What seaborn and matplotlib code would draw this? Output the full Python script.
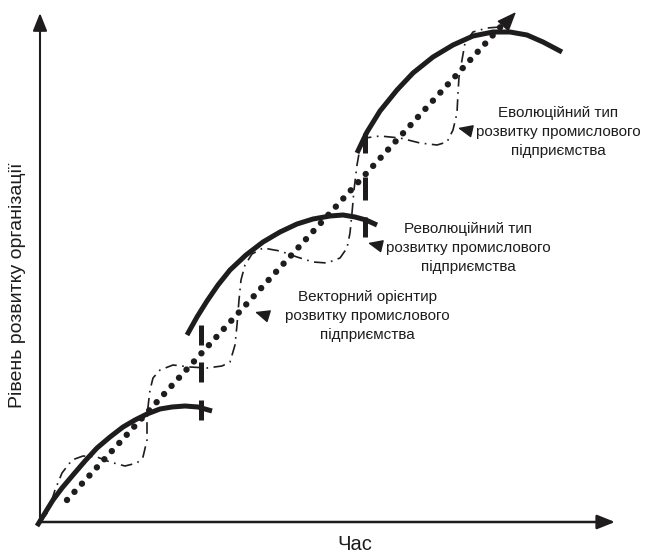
import numpy as np
import pandas as pd
import matplotlib.pyplot as plt
import seaborn as sns

# values; origin is where the two axes meet
# three "revolutionary" arcs (thick solid)
arc1_t = [-3, 5, 13, 22, 33, 45, 57, 70, 83, 95, 107, 120, 132, 145, 158, 172]
arc1_l = [-4, 9, 22, 34, 47, 61, 74, 85, 95, 102, 108, 113, 115, 116, 115, 111]
arc2_t = [147, 157, 167, 178, 190, 206, 223, 240, 257, 273, 290, 303, 315, 326, 337]
arc2_l = [187, 205, 221, 237, 252, 267, 280, 290, 298, 303, 306, 307, 305, 302, 297]
arc3_t = [317, 327, 340, 357, 373, 393, 413, 433, 453, 470, 487, 503, 522]
arc3_l = [369, 390, 411, 432, 449, 465, 477, 486, 490, 490, 487, 480, 470]

# vector (dotted straight line)
vec_t = [27, 465]
vec_l = [22, 500]

# evolutionary wave (dash-dot)
evo_t = [0, 8, 15, 22, 32, 43, 57, 70, 85, 97, 103, 107, 107, 108, 110, 113, 120,
         133, 150, 167, 182, 190, 195, 197, 199, 201, 205, 212, 223, 240, 257, 273,
         287, 300, 307, 310, 312, 314, 317, 320, 325, 340, 360, 380, 397, 407, 413,
         417, 418, 419, 422, 425, 433, 447, 460, 468]
evo_l = [0, 10, 32, 49, 62, 66, 65, 60, 56, 59, 65, 82, 99, 115, 132, 144, 152,
         157, 155, 154, 156, 160, 177, 197, 222, 242, 257, 268, 274, 271, 265, 260,
         259, 264, 274, 289, 309, 332, 357, 374, 384, 386, 384, 379, 377, 380, 392,
         409, 429, 445, 462, 479, 490, 494, 495, 500]

# thick dashed separators between the stages
sep_t = [161, 161, 161, 325, 325, 325]
sep_lo = [102, 140, 177, 285, 322, 369]
sep_hi = [122, 160, 197, 305, 345, 389]

labels = ["Еволюційний тип\nрозвитку промислового\nпідприємства",
          "Революційний тип\nрозвитку промислового\nпідприємства",
          "Векторний орієнтир\nрозвитку промислового\nпідприємства"]
label_t = [518, 428, 327]
label_l = [390, 274, 206]
tip_t = [418, 328, 215]
tip_l = [394, 279, 210]
tail_t = [431, 341, 228]
tail_l = [391, 276, 206]

ink = "#1e1c1d"

sns.set_theme(style="white")
plt.rcParams['font.family'] = ['Liberation Sans', 'DejaVu Sans']

fig = plt.figure(figsize=(6.45, 5.56), dpi=100)
ax = fig.add_axes([0, 0, 1, 1])
ax.set_xlim(-40, 605)
ax.set_ylim(-34, 522)
ax.set_axis_off()

# axes with arrow heads
ax.annotate("", xy=(0, 509), xytext=(0, 0),
            arrowprops=dict(arrowstyle="-|>,head_length=0.9,head_width=0.36",
                            lw=1.5, color=ink, shrinkA=0, shrinkB=0))
ax.annotate("", xy=(575, 0), xytext=(0, 0),
            arrowprops=dict(arrowstyle="-|>,head_length=0.9,head_width=0.36",
                            lw=1.8, color=ink, shrinkA=0, shrinkB=0))

# dotted vector
sns.lineplot(x=vec_t, y=vec_l, ax=ax, color=ink, lw=4.6, sort=False, estimator=None)
ln = ax.lines[-1]
ln.set_linestyle((0, (0.01, 1.72)))
ln.set_dash_capstyle("round")

# dash-dot evolutionary wave
evo = pd.DataFrame({"t": evo_t, "l": evo_l})
sns.lineplot(data=evo, x="t", y="l", ax=ax, color=ink, lw=1.2, sort=False, estimator=None)
ax.lines[-1].set_linestyle((0, (7, 3.3, 1, 3.3)))
ax.annotate("", xy=(476, 510), xytext=(465, 498),
            arrowprops=dict(arrowstyle="-|>,head_length=1.0,head_width=0.4",
                            lw=1.1, color=ink, shrinkA=0, shrinkB=0))

# thick arcs
for tt, ll in [(arc1_t, arc1_l), (arc2_t, arc2_l), (arc3_t, arc3_l)]:
    sns.lineplot(x=tt, y=ll, ax=ax, color=ink, lw=3.6, sort=False, estimator=None,
                 solid_capstyle="butt", solid_joinstyle="round")

ax.vlines(sep_t, sep_lo, sep_hi, colors=ink, lw=3.6)

# labels with small pointers
for txt, x, y in zip(labels, label_t, label_l):
    ax.text(x, y, txt, ha="center", va="center", multialignment="center",
            fontsize=11, color=ink, linespacing=1.42)
for x0, y0, x1, y1 in zip(tail_t, tail_l, tip_t, tip_l):
    ax.annotate("", xy=(x1, y1), xytext=(x0, y0),
                arrowprops=dict(arrowstyle="-|>,head_length=0.75,head_width=0.33",
                                lw=1.0, color=ink, shrinkA=0, shrinkB=0))

ax.text(315, -23, "Час", ha="center", va="center", fontsize=14.5, color=ink)
ax.text(-22, 237, "Рівень розвитку організації", rotation=90, ha="center",
        va="center", fontsize=14, color=ink)

fig.savefig("out.png", dpi=100)
